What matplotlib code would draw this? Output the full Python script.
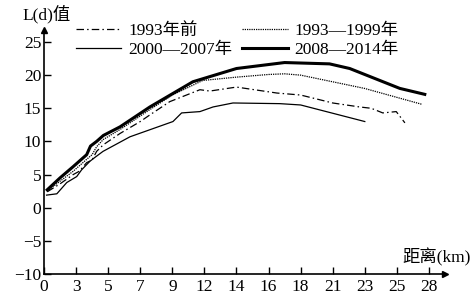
import matplotlib
matplotlib.use("Agg")
import matplotlib.pyplot as plt

plt.rcParams['font.family'] = ['Liberation Serif', 'Noto Sans CJK SC', 'DejaVu Sans']
plt.rcParams['axes.unicode_minus'] = True

# categorical distance ticks (evenly spaced on the axis)
x_labels = ['0', '3', '5', '7', '9', '12', '14', '16', '18', '21', '23', '25', '28']
y_ticks = [-10, -5, 0, 5, 10, 15, 20, 25]

# positions along the category axis (fractional tick index) and L(d) values
x_2008 = [0.10, 0.50, 0.91, 1.33, 1.45, 1.64, 1.85, 2.37, 2.68, 3.30, 4.64, 6.00, 7.50, 8.90, 9.53, 11.09, 11.87]
v_2008 = [2.7, 4.5, 6.2, 8.0, 9.3, 10.0, 10.9, 12.2, 13.2, 15.2, 19.0, 21.0, 21.9, 21.7, 21.0, 18.0, 17.1]

x_1999 = [0.10, 0.50, 0.91, 1.33, 1.50, 1.64, 1.85, 2.37, 3.30, 4.00, 4.95, 6.00, 7.00, 7.50, 8.00, 9.99, 11.78]
v_1999 = [2.5, 4.0, 5.5, 7.3, 8.0, 9.2, 10.3, 11.8, 14.8, 17.0, 19.2, 19.7, 20.1, 20.2, 20.0, 18.0, 15.6]

x_1993 = [0.10, 0.50, 0.91, 1.10, 1.33, 1.50, 1.64, 1.85, 2.37, 3.00, 3.30, 3.92, 4.86, 5.17, 6.00, 7.26, 8.00, 9.00, 9.84, 10.20, 10.56, 10.98, 11.25]
v_1993 = [2.4, 3.6, 5.0, 5.5, 6.8, 7.2, 8.5, 9.5, 11.2, 13.0, 14.0, 16.0, 17.8, 17.6, 18.2, 17.3, 17.0, 15.8, 15.2, 15.0, 14.3, 14.5, 12.8]

x_2007 = [0.08, 0.40, 0.71, 1.02, 1.17, 1.43, 1.59, 1.84, 2.68, 4.02, 4.29, 4.86, 5.27, 5.89, 7.35, 8.00, 10.00]
v_2007 = [1.9, 2.1, 3.8, 4.7, 5.7, 7.0, 7.6, 8.5, 10.7, 13.0, 14.3, 14.5, 15.2, 15.8, 15.7, 15.5, 13.0]

W, H = 471, 296
fig = plt.figure(figsize=(W / 100, H / 100), dpi=100)
ax = fig.add_axes([44 / W, 1 - 274 / H, (445 - 44) / W, (274 - 30) / H])

l1, = ax.plot(x_1993, v_1993, color='black', lw=0.9, dashes=(6, 2.5, 1.2, 2.5), label='1993年前')
l2, = ax.plot(x_1999, v_1999, color='black', lw=0.9, linestyle=(0, (1, 0.8)), label='1993—1999年')
l3, = ax.plot(x_2007, v_2007, color='black', lw=0.9, label='2000—2007年')
l4, = ax.plot(x_2008, v_2008, color='black', lw=2.2, label='2008—2014年')

ax.set_xlim(0, (445 - 44) / 32.08)
ax.set_ylim(-10, 25 + 12 / 6.63)
ax.set_xticks(range(len(x_labels)))
ax.set_xticklabels(x_labels)
ax.set_yticks(y_ticks)
ax.tick_params(direction='in', length=5, width=1, labelsize=12.5, color='black')
ax.tick_params(axis='x', pad=3.5)
ax.tick_params(axis='y', pad=2)
for s in ['top', 'right']:
    ax.spines[s].set_visible(False)
for s in ['left', 'bottom']:
    ax.spines[s].set_linewidth(1.2)

# axis arrows
ax.plot(1, -10, '>', color='black', markersize=5, transform=ax.get_yaxis_transform(), clip_on=False)
ax.plot(0, 1, '^', color='black', markersize=5, transform=ax.get_xaxis_transform(), clip_on=False)

fig.text(22 / W, 1 - 14 / H, 'L(d)值', fontsize=12.5, va='center', ha='left')
fig.text(471 / W, 1 - 257 / H, '距离(km)', fontsize=12.5, va='center', ha='right')

leg = fig.legend([l1, l3, l2, l4], [l1.get_label(), l3.get_label(), l2.get_label(), l4.get_label()],
                 loc='upper left', bbox_to_anchor=(76 / W, 1 - 23 / H), ncol=2, frameon=False,
                 fontsize=12.5, handlelength=2.6, handletextpad=0.4, columnspacing=0.6,
                 labelspacing=0.15, borderaxespad=0, borderpad=0)

fig.savefig('out.png', dpi=100)
